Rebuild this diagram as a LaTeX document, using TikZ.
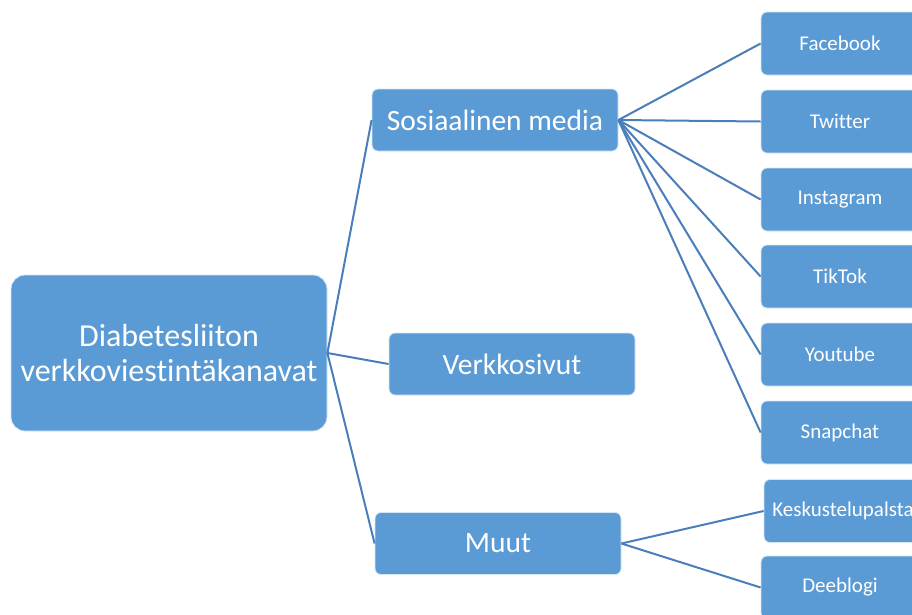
\documentclass[tikz,border=0pt]{standalone}
\usepackage{fontspec}
\setmainfont[Ligatures={NoCommon}]{Carlito}
\definecolor{boxblue}{HTML}{5B9BD5}
\definecolor{linkblue}{HTML}{4A7EBB}
\begin{document}
\begin{tikzpicture}[x=1pt,y=-1pt,
  box/.style={rectangle, rounded corners=6pt, fill=boxblue, draw=white!75!boxblue, line width=0.8pt, text=white, inner sep=0pt, align=center},
  midbox/.style={box, minimum width=246pt, minimum height=62pt, font=\fontsize{29.5}{34}\selectfont},
  leaf/.style={box, minimum width=158pt, minimum height=63pt, font=\fontsize{21}{25}\selectfont},
  link/.style={draw=linkblue, line width=2pt}]
\clip (0,0) rectangle (912,614);
\node[box, rounded corners=14pt, minimum width=316pt, minimum height=156pt, font=\fontsize{32}{35}\selectfont] (root) at (169,353) {Diabetesliiton\\verkkoviestintäkanavat};
\node[midbox] (sm) at (495,120) {Sosiaalinen media};
\node[midbox] (web) at (512,364) {Verkkosivut};
\node[midbox] (muut) at (498,543.5) {Muut};
\node[leaf] (fb) at (840,43.5) {Facebook};
\node[leaf] (tw) at (840,121.5) {Twitter};
\node[leaf] (ig) at (840,199.5) {Instagram};
\node[leaf] (tt) at (840,276.5) {TikTok};
\node[leaf] (yt) at (840,354.5) {Youtube};
\node[leaf] (sc) at (840,432.5) {Snapchat};
\node[leaf] (ks) at (843,511) {Keskustelupalsta};
\node[leaf] (db) at (840,587.5) {Deeblogi};
\foreach \t in {sm,web,muut} \draw[link] (root.east) -- (\t.west);
\foreach \t in {fb,tw,ig,tt,yt,sc} \draw[link] (sm.east) -- (\t.west);
\foreach \t in {ks,db} \draw[link] (muut.east) -- (\t.west);
\end{tikzpicture}
\end{document}
